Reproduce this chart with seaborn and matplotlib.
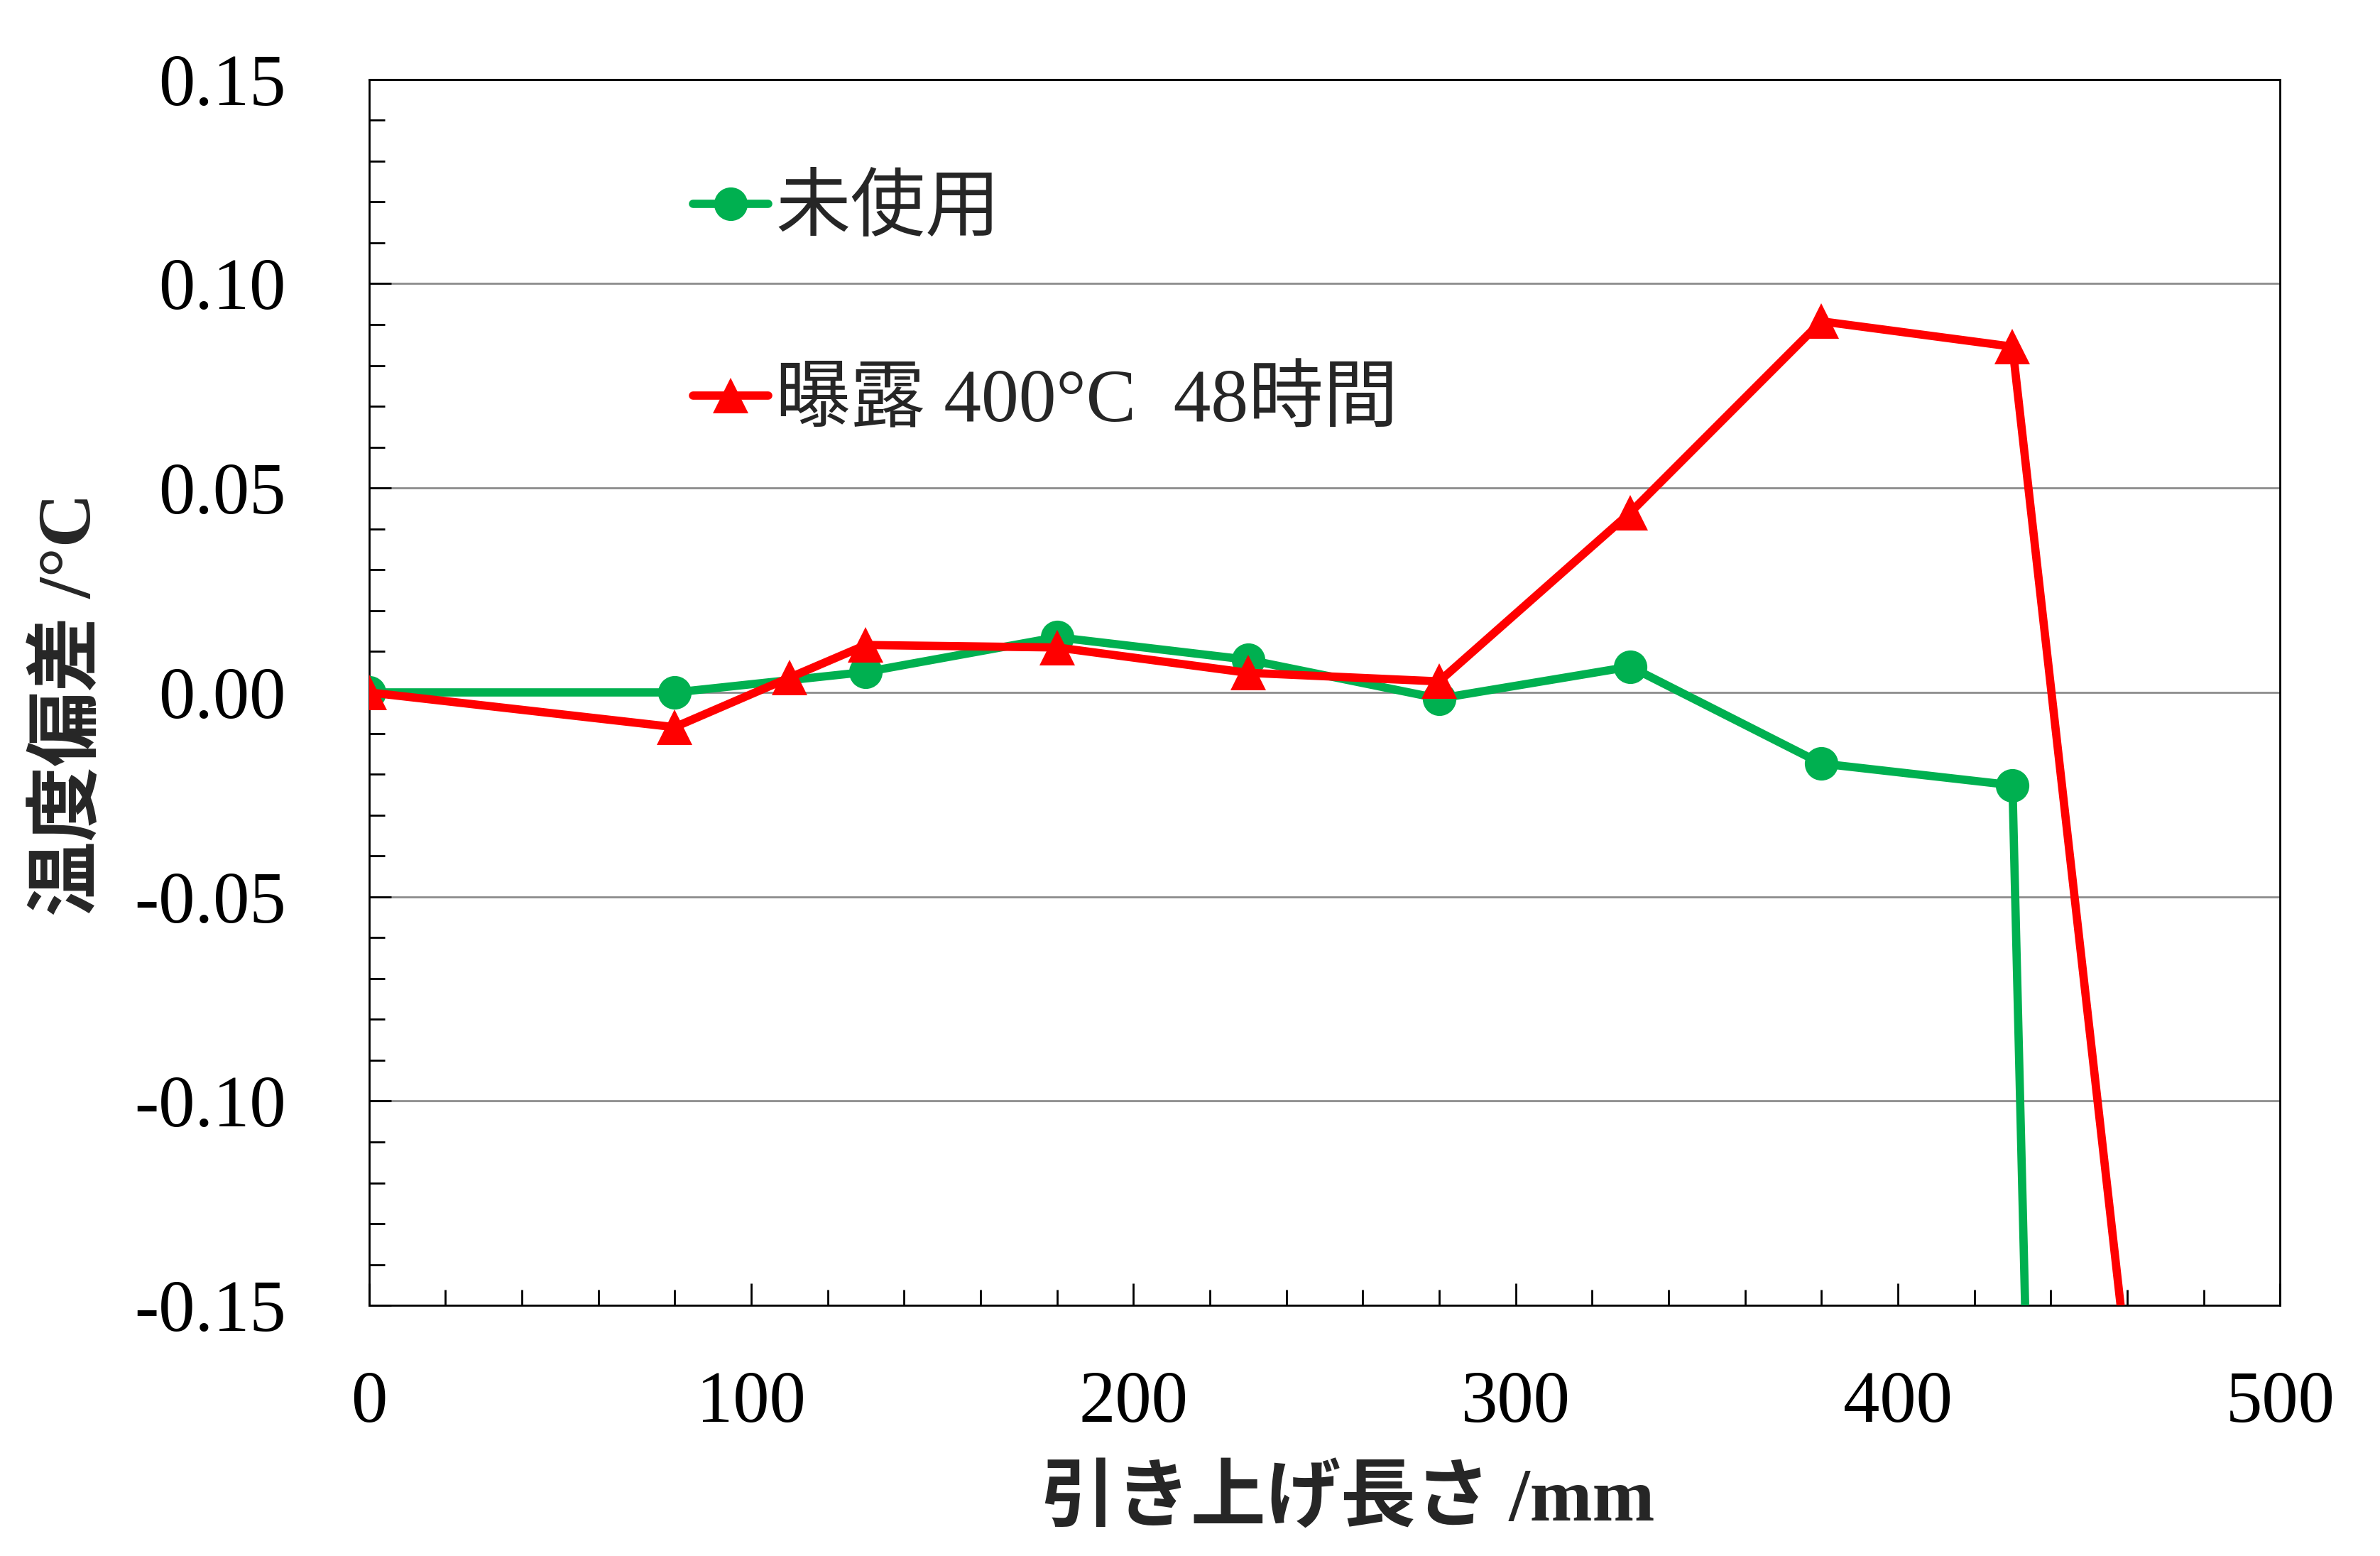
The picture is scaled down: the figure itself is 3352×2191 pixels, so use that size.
import numpy as np
import pandas as pd
import matplotlib
matplotlib.use("Agg")
import matplotlib.pyplot as plt
from matplotlib.ticker import MultipleLocator, FormatStrFormatter
import seaborn as sns

# 未使用 (unused thermocouple)
x_unused = [0, 80, 130, 180, 230, 280, 330, 380, 430, 480]
y_unused = [0.000, 0.000, 0.005, 0.0135, 0.008, -0.0015, 0.0063, -0.0174, -0.0227, -1.95]

# 曝露 400°C 48時間 (exposed)
x_exposed = [0, 80, 110, 130, 180, 230, 280, 330, 380, 430, 480]
y_exposed = [0.000, -0.0085, 0.0036, 0.0116, 0.011, 0.0048, 0.0027, 0.044, 0.0908, 0.0846, -0.33]

label_unused = "未使用"
label_exposed = "曝露 400°C  48時間"
x_label = "引き上げ長さ /mm"
y_label = "温度偏差 /°C"

green = "#00B050"
red = "#FF0000"

sns.set_theme(style="ticks")
fonts = ["Liberation Serif", "Noto Sans CJK JP"]
plt.rcParams["font.family"] = fonts
plt.rcParams["axes.unicode_minus"] = False

fig = plt.figure(figsize=(16.76, 10.955), dpi=200)
ax = fig.add_axes([0.155, 0.161, 0.803, 0.788])

df_u = pd.DataFrame({"x": x_unused, "y": y_unused})
df_e = pd.DataFrame({"x": x_exposed, "y": y_exposed})

sns.lineplot(data=df_u, x="x", y="y", ax=ax, color=green, linewidth=4.2,
             marker="o", markersize=17, markeredgewidth=0, label=label_unused,
             sort=False, zorder=3)
sns.lineplot(data=df_e, x="x", y="y", ax=ax, color=red, linewidth=4.2,
             marker="^", markersize=18, markeredgewidth=0, label=label_exposed,
             sort=False, zorder=4)

ax.set_xlim(0, 500)
ax.set_ylim(-0.15, 0.15)
ax.xaxis.set_major_locator(MultipleLocator(100))
ax.xaxis.set_minor_locator(MultipleLocator(20))
ax.yaxis.set_major_locator(MultipleLocator(0.05))
ax.yaxis.set_minor_locator(MultipleLocator(0.01))
ax.yaxis.set_major_formatter(FormatStrFormatter("%.2f"))

ax.grid(axis="y", which="major", color="#8c8c8c", linewidth=1.0)
ax.grid(axis="x", visible=False)

for s in ax.spines.values():
    s.set_color("black")
    s.set_linewidth(1.0)

ax.tick_params(axis="both", which="both", direction="in", colors="black")
ax.tick_params(axis="x", which="major", length=11, width=1.0, pad=33,
               labelsize=37, top=False)
ax.tick_params(axis="x", which="minor", length=8, width=1.0, top=False)
ax.tick_params(axis="y", which="major", length=11, width=1.0, pad=42,
               labelsize=37, right=False)
ax.tick_params(axis="y", which="minor", length=8, width=1.0, right=False)

ax.set_xlabel(x_label, fontsize=38, fontweight="bold", family=fonts)
ax.set_ylabel(y_label, fontsize=38, fontweight="bold", family=fonts)
ax.xaxis.set_label_coords(0.512, -0.132)
ax.yaxis.set_label_coords(-0.1375, 0.49)

ax.legend(loc="upper left", bbox_to_anchor=(0.150, 0.951), frameon=False,
          borderpad=0, handlelength=1.0, handletextpad=0.1, labelspacing=1.63,
          prop={"family": fonts, "size": 38})

fig.savefig("out.png", dpi=200)
